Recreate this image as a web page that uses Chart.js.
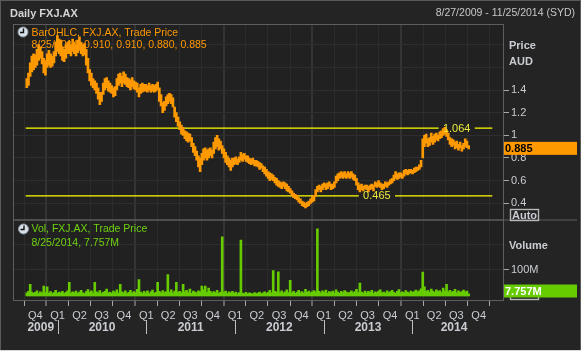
<!DOCTYPE html>
<html>
<head>
<meta charset="utf-8">
<script src="https://cdn.jsdelivr.net/npm/chart.js@4.4.1/dist/chart.umd.min.js"></script>
<style>
  html, body { margin: 0; padding: 0; background: #242424; }
  canvas { display: block; }
</style>
</head>
<body>
<canvas id="myChart" width="581" height="351"></canvas>
<script>
// first weekly bar is the week of 8/27/2009, one entry per week after that
const firstWeek = 2009 + 238 / 365;

// weekly low / high of FXJ.AX in AUD
const priceLow = [
  1.42,1.44,1.52,1.56,1.58, 1.60,1.62,1.66,1.68,1.63, 1.55,1.53,1.60,1.62,1.60, 1.61,1.64,1.70,1.74,1.72,
  1.70,1.66,1.65,1.68,1.72, 1.72,1.70,1.74,1.72,1.70, 1.73,1.75,1.72,1.70,1.71, 1.62,1.55,1.48,1.44,1.42,
  1.40,1.37,1.32,1.27,1.30, 1.36,1.40,1.42,1.39,1.38, 1.37,1.34,1.35,1.40,1.44, 1.46,1.43,1.46,1.45,1.43,
  1.42,1.40,1.43,1.41,1.40, 1.38,1.34,1.37,1.38,1.39, 1.39,1.38,1.40,1.38,1.39, 1.38,1.39,1.40,1.30,1.26,
  1.20,1.22,1.26,1.28,1.30, 1.28,1.25,1.16,1.12,1.08, 1.05,1.01,1.00,0.97,0.95, 0.94,0.95,0.90,0.85,0.82,
  0.78,0.72,0.68,0.74,0.78, 0.80,0.78,0.80,0.82,0.80, 0.84,0.88,0.90,0.87,0.88, 0.84,0.80,0.76,0.74,0.72,
  0.69,0.72,0.74,0.75,0.74, 0.76,0.78,0.77,0.79,0.77, 0.76,0.75,0.74,0.75,0.73, 0.73,0.72,0.70,0.71,0.68,
  0.66,0.64,0.62,0.60,0.61, 0.60,0.58,0.56,0.55,0.54, 0.53,0.55,0.53,0.51,0.50, 0.49,0.47,0.45,0.44,0.43,
  0.41,0.40,0.38,0.37,0.36, 0.37,0.38,0.40,0.41,0.42, 0.46,0.50,0.52,0.50,0.52, 0.54,0.52,0.53,0.55,0.52,
  0.53,0.54,0.58,0.60,0.62, 0.63,0.62,0.63,0.62,0.63, 0.62,0.63,0.61,0.60,0.56, 0.52,0.50,0.52,0.51,0.53,
  0.52,0.50,0.52,0.53,0.51, 0.55,0.54,0.55,0.54,0.52, 0.53,0.55,0.54,0.56,0.57, 0.58,0.60,0.62,0.61,0.62,
  0.63,0.62,0.64,0.66,0.65, 0.66,0.67,0.66,0.67,0.68, 0.69,0.70,0.72,0.80,0.90, 0.93,0.90,0.91,0.94,0.92,
  0.94,0.96,0.95,0.97,0.98, 1.00,1.01,0.99,0.96,0.92, 0.90,0.91,0.88,0.89,0.87, 0.89,0.86,0.88,0.90,0.89,
  0.88
];
const priceHigh = [
  1.50,1.55,1.64,1.70,1.72, 1.71,1.76,1.80,1.78,1.74, 1.68,1.66,1.72,1.75,1.72, 1.70,1.74,1.82,1.88,1.85,
  1.84,1.78,1.76,1.80,1.82, 1.83,1.80,1.85,1.82,1.80, 1.84,1.87,1.82,1.80,1.81, 1.76,1.68,1.58,1.55,1.50,
  1.48,1.46,1.42,1.38,1.38, 1.46,1.50,1.51,1.48,1.46, 1.44,1.42,1.43,1.50,1.54, 1.55,1.52,1.56,1.54,1.51,
  1.50,1.49,1.51,1.48,1.47, 1.46,1.42,1.45,1.46,1.45, 1.45,1.44,1.46,1.44,1.45, 1.44,1.45,1.47,1.42,1.36,
  1.29,1.30,1.34,1.36,1.37, 1.36,1.33,1.25,1.20,1.16, 1.12,1.09,1.07,1.04,1.03, 1.02,1.01,0.98,0.93,0.90,
  0.86,0.82,0.80,0.84,0.88, 0.89,0.87,0.88,0.89,0.87, 0.94,0.98,1.00,0.97,0.95, 0.91,0.88,0.85,0.82,0.80,
  0.78,0.80,0.80,0.81,0.79, 0.81,0.85,0.83,0.84,0.82, 0.82,0.80,0.79,0.80,0.78, 0.78,0.77,0.76,0.75,0.73,
  0.72,0.70,0.68,0.67,0.66, 0.65,0.63,0.62,0.60,0.59, 0.58,0.59,0.58,0.57,0.55, 0.53,0.51,0.49,0.48,0.47,
  0.45,0.44,0.42,0.41,0.40, 0.41,0.42,0.44,0.46,0.47, 0.52,0.55,0.56,0.55,0.57, 0.58,0.57,0.58,0.59,0.57,
  0.57,0.59,0.64,0.66,0.67, 0.68,0.67,0.68,0.66,0.68, 0.67,0.68,0.66,0.65,0.62, 0.58,0.56,0.57,0.55,0.56,
  0.56,0.55,0.56,0.57,0.56, 0.59,0.58,0.60,0.58,0.57, 0.57,0.59,0.58,0.59,0.61, 0.62,0.65,0.68,0.66,0.67,
  0.67,0.66,0.69,0.70,0.69, 0.70,0.70,0.69,0.71,0.72, 0.72,0.74,0.78,0.97,1.00, 1.01,0.97,0.98,1.02,0.99,
  1.01,1.02,1.00,1.03,1.04, 1.06,1.07,1.05,1.02,0.98, 0.97,0.96,0.94,0.95,0.92, 0.94,0.91,0.93,0.97,0.95,
  0.91
];
// weekly volume in millions of shares
const volume = [
  12,18,45,15,10,14,20,9,16,12,   38,14,35,11,17,9,13,22,10,15,
  12,18,9,14,20,53,11,16,13,19,   10,15,22,12,9,17,25,14,20,11,
  53,16,12,21,9,14,18,27,12,15,   10,19,13,24,11,45,16,12,20,9,
  14,22,11,17,13,26,63,15,10,18,  12,20,9,16,23,11,14,53,18,12,
  21,13,17,82,15,24,11,19,53,14,  18,12,45,16,22,13,27,10,19,15,
  12,20,16,38,24,38,14,30,18,11,  17,13,22,10,15,228,14,19,9,16,
  12,18,10,15,8,13,215,11,9,14,   8,12,10,7,13,9,11,15,8,12,
  16,10,14,22,12,98,18,15,93,13,  20,11,16,24,13,60,12,18,10,15,
  22,13,17,11,26,14,19,12,16,21,  15,258,18,12,20,14,23,11,17,13,
  19,12,24,15,10,18,13,21,16,11,  14,20,12,17,26,13,50,15,11,19,
  12,18,14,22,10,16,13,19,24,12,  15,11,20,13,17,22,14,10,18,25,
  13,16,12,21,15,11,19,14,17,23,  16,20,28,92,35,18,22,15,27,19,
  14,24,17,21,13,30,19,45,16,22,  15,18,26,12,20,14,17,23,16,19,
  8
];

// last bar shown in the legends
const lastDate = '8/25/2014';
const lastOHLC = [0.910, 0.910, 0.880, 0.885];
const lastVolume = 7.757;

// drawn price levels and where their labels sit (date as decimal year)
const levels = [1.064, 0.465];
const levelLabelAt = [2014.5, 2013.6];

// axes
const xMin = 2009.6395, xMax = 2014.902;
const years = [2010, 2011, 2012, 2013, 2014];
const yearLabels = ['2009', '2010', '2011', '2012', '2013', '2014'];
const yearLabelAt = [2009.81, 2010.5, 2011.5, 2012.5, 2013.5, 2014.47];
const quarterStart = [0, 90 / 365, 181 / 365, 273 / 365];
const quarterLabels = ['Q4','Q1','Q2','Q3','Q4','Q1','Q2','Q3','Q4','Q1','Q2','Q3','Q4',
                       'Q1','Q2','Q3','Q4','Q1','Q2','Q3','Q4'];
const priceTicks = [0.4, 0.6, 0.8, 1, 1.2, 1.4, 1.6, 1.8];
const volumeTicks = [100, 200];

const FONT = "'Liberation Sans', Arial, sans-serif";
const ORANGE = '#ff9900';
const GREEN = '#66cc00';
const YELLOW = '#ffff00';
const TEXT = '#c9ccd1';

let quarterTicks = [2009 + quarterStart[3]];
years.forEach(yr => quarterStarts(yr));
function quarterStarts(yr) {
  quarterStart.forEach(q => quarterTicks.push(yr + q));
}

const weekX = priceLow.map((_, i) => firstWeek + i * 7 / 365.25);

// level lines leave a gap where their label goes
const gapHalf = 0.204;
function levelData(level, at) {
  return [
    {x: xMin, y: level}, {x: at - gapHalf, y: level}, {x: at, y: null},
    {x: at + gapHalf, y: level}, {x: xMax, y: level}
  ];
}

const data = {
  datasets: [
    {
      type: 'bar', label: 'BarOHLC', yAxisID: 'y', grouped: false,
      data: weekX.map((x, i) => ({x: x, y: [priceLow[i], priceHigh[i]]})),
      backgroundColor: ORANGE, barThickness: 2, borderWidth: 0
    },
    {
      type: 'bar', label: 'Vol', yAxisID: 'yv', grouped: false,
      data: weekX.map((x, i) => ({x: x, y: volume[i]})),
      backgroundColor: GREEN, barThickness: 2, borderWidth: 0
    },
    {
      type: 'line', yAxisID: 'y', data: levelData(levels[0], levelLabelAt[0]),
      borderColor: YELLOW, borderWidth: 1.3, pointRadius: 0, spanGaps: false
    },
    {
      type: 'line', yAxisID: 'y', data: levelData(levels[1], levelLabelAt[1]),
      borderColor: YELLOW, borderWidth: 1.3, pointRadius: 0, spanGaps: false
    }
  ]
};

function isYear(v) { return Math.abs(v - Math.round(v)) < 1e-6; }

function clock(ctx, cx, cy) {
  ctx.beginPath();
  ctx.arc(cx, cy, 5, 0, Math.PI * 2);
  ctx.fillStyle = '#d8e0e8';
  ctx.fill();
  ctx.strokeStyle = '#8a949e';
  ctx.lineWidth = 1;
  ctx.stroke();
  ctx.beginPath();
  ctx.moveTo(cx + 0.5, cy - 3.5);
  ctx.lineTo(cx + 0.5, cy + 0.5);
  ctx.lineTo(cx - 3, cy + 0.5);
  ctx.strokeStyle = '#111';
  ctx.lineWidth = 1.4;
  ctx.stroke();
}

const overlay = {
  id: 'overlay',
  beforeDraw(chart) {
    const {ctx, chartArea: a} = chart;
    ctx.save();
    ctx.fillStyle = '#242424';
    ctx.fillRect(0, 0, chart.width, chart.height);
    ctx.fillStyle = '#212121';
    ctx.fillRect(a.left, a.top, a.right - a.left, a.bottom - a.top);
    ctx.restore();
  },
  afterDraw(chart) {
    const {ctx, chartArea: a, scales} = chart;
    const xs = scales.x, yp = scales.y, yv = scales.yv;
    ctx.save();

    // panel frames
    ctx.strokeStyle = '#5e5e5e';
    ctx.lineWidth = 1;
    ctx.strokeRect(a.left - 0.5, yp.top - 0.5, a.right - a.left, yp.bottom - yp.top);
    ctx.strokeRect(a.left - 0.5, yv.top - 0.5, a.right - a.left, yv.bottom - yv.top + 1);
    ctx.beginPath();
    ctx.moveTo(a.right, yv.top - 0.5);
    ctx.lineTo(577, yv.top - 0.5);
    ctx.stroke();

    // level labels
    ctx.font = '11px ' + FONT;
    ctx.textAlign = 'center';
    ctx.textBaseline = 'middle';
    ctx.fillStyle = '#eaea3c';
    levels.forEach((lv, i) => {
      ctx.fillText(lv.toFixed(3), xs.getPixelForValue(levelLabelAt[i]), yp.getPixelForValue(lv) + 0.5);
    });

    // title bar
    ctx.textAlign = 'left';
    ctx.fillStyle = '#d4d4d4';
    ctx.font = 'bold 11px ' + FONT;
    ctx.fillText('Daily FXJ.AX', 10, 13.5);
    ctx.textAlign = 'right';
    ctx.font = '10.5px ' + FONT;
    ctx.fillStyle = '#c8c8c8';
    ctx.fillText('8/27/2009 - 11/25/2014 (SYD)', 575, 13.5);

    // series legends
    ctx.textAlign = 'left';
    clock(ctx, 23, 32);
    clock(ctx, 23.5, 229);
    ctx.font = '10.5px ' + FONT;
    ctx.fillStyle = ORANGE;
    ctx.fillText('BarOHLC, FXJ.AX, Trade Price', 31.5, 33);
    ctx.fillText(lastDate + ', ' + lastOHLC.map(v => v.toFixed(3)).join(', '), 31.5, 45);
    ctx.fillStyle = '#6fd10f';
    ctx.fillText('Vol, FXJ.AX, Trade Price', 31.5, 229.5);
    ctx.fillText(lastDate + ', ' + lastVolume.toFixed(3) + 'M', 31.5, 243.5);

    // axis titles
    ctx.fillStyle = TEXT;
    ctx.font = 'bold 11px ' + FONT;
    ctx.fillText('Price', 509, 46);
    ctx.fillText('AUD', 509, 61.5);
    ctx.fillText('Volume', 509, 246);

    // Auto buttons
    ctx.strokeStyle = '#b8b8b8';
    ctx.strokeRect(510.5, 209.5, 28, 11);
    ctx.strokeRect(510.5, 288.5, 28, 11);
    ctx.fillText('Auto', 512, 215.5);

    // last value boxes
    const py = yp.getPixelForValue(lastOHLC[3]);
    ctx.fillStyle = ORANGE;
    ctx.fillRect(a.right, py - 6.5, 73, 13);
    ctx.fillStyle = '#000';
    ctx.fillText(lastOHLC[3].toFixed(3), a.right + 1, py + 0.5);
    const vy = Math.min(yv.getPixelForValue(lastVolume), yv.bottom - 9);
    ctx.fillStyle = GREEN;
    ctx.fillRect(a.right, vy - 6.5, 73, 13);
    ctx.fillStyle = '#fff';
    ctx.fillText(lastVolume.toFixed(3) + 'M', a.right + 1, vy + 0.5);

    // year row
    ctx.font = 'bold 12px ' + FONT;
    ctx.textAlign = 'center';
    ctx.fillStyle = TEXT;
    yearLabels.forEach((t, i) => ctx.fillText(t, xs.getPixelForValue(yearLabelAt[i]), 328));
    ctx.strokeStyle = '#c0c0c0';
    ctx.lineWidth = 1;
    years.forEach(yr => {
      const px = Math.round(xs.getPixelForValue(yr)) + 0.5;
      ctx.beginPath();
      ctx.moveTo(px, 320);
      ctx.lineTo(px, 334);
      ctx.stroke();
    });

    // outer edge
    ctx.strokeStyle = '#5a5a5a';
    ctx.strokeRect(0.5, 0.5, chart.width - 1, chart.height - 1);
    ctx.fillStyle = '#d8d8d8';
    ctx.fillRect(0, chart.height - 1, chart.width, 1);
    ctx.restore();
  }
};

const config = {
  data: data,
  options: {
    responsive: false,
    devicePixelRatio: 1,
    animation: false,
    events: [],
    layout: { padding: { left: 14, top: 25, right: 0, bottom: 0 } },
    plugins: { legend: { display: false }, tooltip: { enabled: false } },
    scales: {
      x: {
        type: 'linear', min: xMin, max: xMax,
        afterBuildTicks: s => { s.ticks = quarterTicks.map(v => ({value: v})); },
        afterFit: s => { s.height = 51; },
        ticks: {
          autoSkip: false, maxRotation: 0, padding: 3, color: TEXT,
          font: { family: FONT, size: 11 },
          callback: (v, i) => quarterLabels[i]
        },
        grid: {
          color: c => (c.tick && isYear(c.tick.value)) ? '#343434' : '#2c2c2c',
          lineWidth: c => (c.tick && isYear(c.tick.value)) ? 2 : 1,
          tickColor: '#a8a8a8', tickWidth: 1, tickLength: 6
        },
        border: { display: false }
      },
      y: {
        type: 'linear', position: 'right', stack: 'panes', stackWeight: 195.5,
        min: 0.2482, max: 1.9737,
        afterBuildTicks: s => { s.ticks = priceTicks.map(v => ({value: v})); },
        afterFit: s => { s.width = 77; },
        ticks: {
          padding: 2, color: TEXT, font: { family: FONT, size: 11 },
          callback: v => v < 1.5 ? String(v) : ''
        },
        grid: {
          color: '#2e2e2e', tickLength: 5, tickWidth: 1,
          tickColor: c => (c.tick && c.tick.value > 1.5) ? 'rgba(0,0,0,0)' : '#a8a8a8'
        },
        border: { display: false }
      },
      yv: {
        type: 'linear', position: 'right', stack: 'panes', stackWeight: 79.5,
        min: -15.4, max: 290.4,
        afterBuildTicks: s => { s.ticks = volumeTicks.map(v => ({value: v})); },
        afterFit: s => { s.width = 77; },
        ticks: {
          padding: 2, color: TEXT, font: { family: FONT, size: 11 },
          callback: v => v < 150 ? v + 'M' : ''
        },
        grid: {
          color: '#2e2e2e', tickLength: 5, tickWidth: 1,
          tickColor: c => (c.tick && c.tick.value > 150) ? 'rgba(0,0,0,0)' : '#a8a8a8'
        },
        border: { display: false }
      }
    }
  },
  plugins: [overlay]
};

const myChart = new Chart(document.getElementById('myChart'), config);
</script>
</body>
</html>
